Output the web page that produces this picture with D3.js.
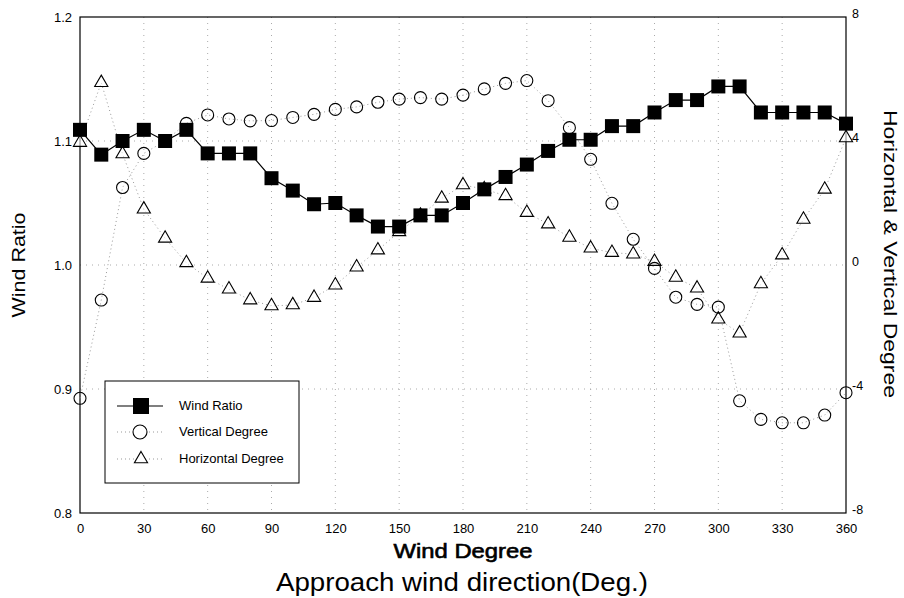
<!DOCTYPE html>
<html><head><meta charset="utf-8">
<script src="https://cdn.jsdelivr.net/npm/d3@7"></script>
<style>body{margin:0;background:#fff}svg{display:block}text{font-family:Arial,"Liberation Sans",sans-serif}</style>
</head><body><svg id="c" width="904" height="598"></svg>
<script>
const degrees = [0,10,20,30,40,50,60,70,80,90,100,110,120,130,140,150,160,170,180,190,200,210,220,230,240,250,260,270,280,290,300,310,320,330,340,350,360];
const windRatio = [1.109,1.089,1.100,1.109,1.100,1.109,1.090,1.090,1.090,1.070,1.060,1.049,1.050,1.040,1.031,1.031,1.040,1.040,1.050,1.061,1.071,1.081,1.092,1.101,1.101,1.112,1.112,1.123,1.133,1.133,1.144,1.144,1.123,1.123,1.123,1.123,1.114];
const verticalDeg = [-4.3,-1.13,2.5,3.6,4.0,4.57,4.84,4.71,4.65,4.66,4.76,4.86,5.02,5.1,5.25,5.35,5.4,5.35,5.48,5.68,5.86,5.95,5.3,4.43,3.41,1.99,0.83,-0.11,-1.04,-1.27,-1.36,-4.38,-4.98,-5.09,-5.09,-4.84,-4.12];
const horizontalDeg = [3.95,5.88,3.58,1.8,0.86,0.07,-0.43,-0.78,-1.13,-1.32,-1.29,-1.05,-0.65,-0.07,0.48,1.07,1.6,2.15,2.58,2.45,2.23,1.69,1.32,0.89,0.54,0.4,0.35,0.11,-0.4,-0.75,-1.75,-2.2,-0.61,0.32,1.47,2.44,4.1];
const xTicks = [0,30,60,90,120,150,180,210,240,270,300,330,360];
const leftTicks = [0.8,0.9,1.0,1.1,1.2];
const leftTickLabels = ["0.8","0.9","1.0","1.1","1.2"];
const rightTicks = [-8,-4,0,4,8];
const rightTickLabels = ["-8","-4","0","4","8"];
const legendLabels = ["Wind Ratio","Vertical Degree","Horizontal Degree"];

const svg = d3.select("#c");
const L=80,R=846,T=17,B=513;
const x = d3.scaleLinear().domain([0,360]).range([L,R]);
const yL = d3.scaleLinear().domain([0.8,1.2]).range([B,T]);
const yR = d3.scaleLinear().domain([-8,8]).range([B,T]);

// grid
const g = svg.append("g");
g.selectAll("line.vx").data(xTicks.slice(1,-1)).join("line")
 .attr("x1",d=>x(d)).attr("x2",d=>x(d)).attr("y1",T).attr("y2",B)
 .attr("stroke","#aaa").attr("stroke-width",1).attr("stroke-dasharray","1,5");
g.selectAll("line.hy").data(leftTicks.slice(1,-1)).join("line")
 .attr("x1",L).attr("x2",R).attr("y1",d=>yL(d)).attr("y2",d=>yL(d))
 .attr("stroke","#aaa").attr("stroke-width",1).attr("stroke-dasharray","1,5");

// frame
svg.append("rect").attr("x",L).attr("y",T).attr("width",R-L).attr("height",B-T)
 .attr("fill","none").attr("stroke","#000").attr("stroke-width",1.2);

// axes (labels only)
const ax = d3.axisBottom(x).tickValues(xTicks).tickSize(0).tickPadding(11);
svg.append("g").attr("transform",`translate(0,${B})`).call(ax)
 .call(s=>s.select(".domain").remove())
 .selectAll("text").attr("font-size",13).attr("fill","#000").attr("font-family","Arial");
const ayl = d3.axisLeft(yL).tickValues(leftTicks).tickFormat((d,i)=>leftTickLabels[i]).tickSize(0).tickPadding(8);
svg.append("g").attr("transform",`translate(${L},0)`).call(ayl)
 .call(s=>s.select(".domain").remove())
 .selectAll("text").attr("font-size",13).attr("fill","#000").attr("font-family","Arial");
const ayr = d3.axisRight(yR).tickValues(rightTicks).tickFormat((d,i)=>rightTickLabels[i]).tickSize(0).tickPadding(6);
svg.append("g").attr("transform",`translate(${R},-4)`).call(ayr)
 .call(s=>s.select(".domain").remove())
 .selectAll("text").attr("font-size",12.5).attr("fill","#000").attr("font-family","Arial");

// series lines
const data = degrees.map((d,i)=>({d,w:windRatio[i],v:verticalDeg[i],h:horizontalDeg[i]}));
svg.append("path").datum(data).attr("fill","none").attr("stroke","#999").attr("stroke-width",1).attr("stroke-dasharray","1,3")
 .attr("d",d3.line().x(p=>x(p.d)).y(p=>yR(p.v)));
svg.append("path").datum(data).attr("fill","none").attr("stroke","#999").attr("stroke-width",1).attr("stroke-dasharray","1,3")
 .attr("d",d3.line().x(p=>x(p.d)).y(p=>yR(p.h)));
const triPath = d3.symbol().type(d3.symbolTriangle).size(75)();
svg.append("g").selectAll("path").data(data).join("path")
 .attr("d",triPath).attr("transform",p=>`translate(${x(p.d)},${yR(p.h)})`)
 .attr("fill","#fff").attr("fill-opacity",0.6).attr("stroke","#000").attr("stroke-width",1.1);
svg.append("g").selectAll("circle").data(data).join("circle")
 .attr("cx",p=>x(p.d)).attr("cy",p=>yR(p.v)).attr("r",6)
 .attr("fill","none").attr("stroke","#000").attr("stroke-width",1.1);
svg.append("path").datum(data).attr("fill","none").attr("stroke","#000").attr("stroke-width",1.2)
 .attr("d",d3.line().x(p=>x(p.d)).y(p=>yL(p.w)));
svg.append("g").selectAll("rect").data(data).join("rect")
 .attr("x",p=>x(p.d)-7).attr("y",p=>yL(p.w)-7).attr("width",14).attr("height",14).attr("fill","#000");

// legend
const lg = svg.append("g");
lg.append("rect").attr("x",105).attr("y",381).attr("width",194).attr("height",102)
 .attr("fill","#fff").attr("stroke","#000").attr("stroke-width",1);
const ly = [406,432,459];
lg.append("line").attr("x1",117).attr("x2",163).attr("y1",ly[0]).attr("y2",ly[0]).attr("stroke","#000").attr("stroke-width",1.2);
lg.append("rect").attr("x",133).attr("y",ly[0]-8).attr("width",16).attr("height",16).attr("fill","#000");
[1,2].forEach(i=>lg.append("line").attr("x1",117).attr("x2",163).attr("y1",ly[i]).attr("y2",ly[i])
 .attr("stroke","#999").attr("stroke-dasharray","1,3"));
lg.append("circle").attr("cx",140).attr("cy",ly[1]).attr("r",7).attr("fill","#fff").attr("stroke","#000").attr("stroke-width",1.1);
lg.append("path").attr("d",triPath).attr("transform",`translate(141,${ly[2]})`).attr("fill","#fff").attr("stroke","#000").attr("stroke-width",1.1);
lg.selectAll("text").data(legendLabels).join("text")
 .attr("x",179).attr("y",(d,i)=>ly[i]+4).attr("font-size",13).text(d=>d);

// titles
svg.append("text").attr("transform","translate(25,265) rotate(-90)").attr("text-anchor","middle")
 .attr("font-size",18).attr("textLength",105).attr("lengthAdjust","spacingAndGlyphs").text("Wind Ratio");
svg.append("text").attr("transform","translate(884,254) rotate(90)").attr("text-anchor","middle")
 .attr("font-size",19).attr("textLength",288).attr("lengthAdjust","spacingAndGlyphs").text("Horizontal & Vertical Degree");
svg.append("text").attr("x",463).attr("y",558).attr("text-anchor","middle")
 .attr("font-size",20).attr("stroke","#000").attr("stroke-width",0.6).attr("textLength",139).attr("lengthAdjust","spacingAndGlyphs").text("Wind Degree");
svg.append("text").attr("x",462).attr("y",591).attr("text-anchor","middle")
 .attr("font-size",25).attr("font-family","'Noto Sans CJK KR','Noto Sans',sans-serif").attr("font-weight",300)
 .attr("textLength",372).attr("lengthAdjust","spacingAndGlyphs").text("Approach wind direction(Deg.)");
</script></body></html>
